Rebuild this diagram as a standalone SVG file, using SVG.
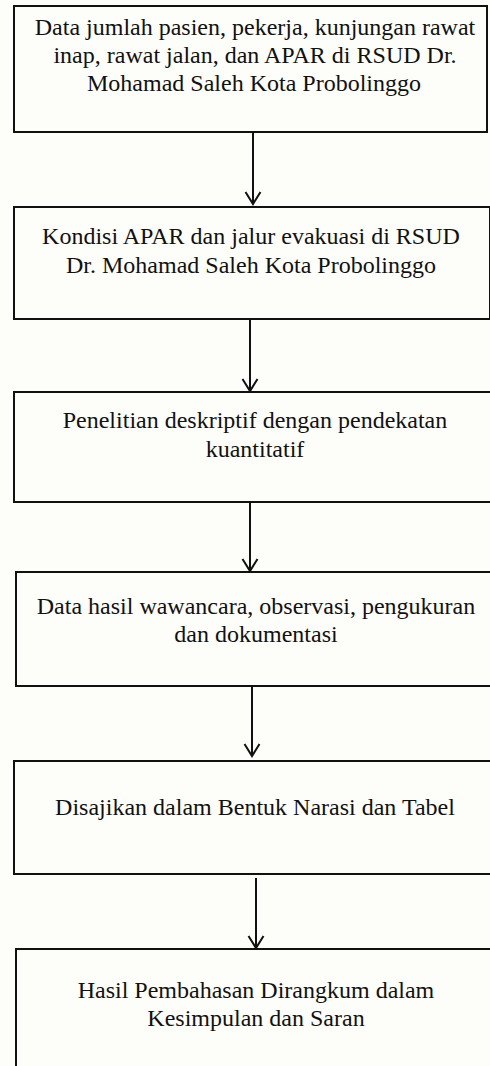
<svg xmlns="http://www.w3.org/2000/svg" width="490" height="1066" viewBox="0 0 490 1066">
  <style>
    .box { fill: none; stroke: #111; stroke-width: 2; }
    .lbl { font-family: "Liberation Serif", "Times New Roman", serif; font-size: 24px; fill: #111; text-anchor: middle; }
    .wire { stroke: #111; stroke-width: 2; fill: none; }
  </style>
  <defs>
    <!-- open V arrowhead, drawn along +x so orient="auto" points it down the line -->
    <marker id="vhead" markerUnits="userSpaceOnUse" markerWidth="16" markerHeight="18" refX="14" refY="9" orient="auto" viewBox="0 0 16 18">
      <path d="M2,1.5 L14,9 L2,16.5" fill="none" stroke="#111" stroke-width="2"/>
    </marker>
  </defs>
  <rect width="490" height="1066" fill="#fdfdf9"/>

  <g id="n1">
    <rect class="box" x="14" y="6" width="473" height="126"/>
    <text class="lbl" x="255" y="35">Data jumlah pasien, pekerja, kunjungan rawat</text>
    <text class="lbl" x="255" y="63">inap, rawat jalan, dan APAR di RSUD Dr.</text>
    <text class="lbl" x="254" y="91">Mohamad Saleh Kota Probolinggo</text>
  </g>

  <g id="n2">
    <rect class="box" x="14" y="207" width="476" height="112"/>
    <text class="lbl" x="251" y="244">Kondisi APAR dan jalur evakuasi di RSUD</text>
    <text class="lbl" x="251" y="273">Dr. Mohamad Saleh Kota Probolinggo</text>
  </g>

  <g id="n3">
    <rect class="box" x="14" y="392" width="480" height="110"/>
    <text class="lbl" x="255" y="428">Penelitian deskriptif dengan pendekatan</text>
    <text class="lbl" x="255" y="457">kuantitatif</text>
  </g>

  <g id="n4">
    <rect class="box" x="16" y="572" width="480" height="114"/>
    <text class="lbl" x="256" y="614">Data hasil wawancara, observasi, pengukuran</text>
    <text class="lbl" x="256" y="642">dan dokumentasi</text>
  </g>

  <g id="n5">
    <rect class="box" x="14" y="761" width="480" height="113"/>
    <text class="lbl" x="255" y="815">Disajikan dalam Bentuk Narasi dan Tabel</text>
  </g>

  <g id="n6">
    <rect class="box" x="16" y="949" width="480" height="130"/>
    <text class="lbl" x="256" y="998">Hasil Pembahasan Dirangkum dalam</text>
    <text class="lbl" x="256" y="1026">Kesimpulan dan Saran</text>
  </g>

  <g id="connectors">
    <line class="wire" x1="253" y1="132" x2="253" y2="204" marker-end="url(#vhead)"/>
    <line class="wire" x1="250" y1="319" x2="250" y2="391" marker-end="url(#vhead)"/>
    <line class="wire" x1="250" y1="502" x2="250" y2="571" marker-end="url(#vhead)"/>
    <line class="wire" x1="252" y1="686" x2="252" y2="756" marker-end="url(#vhead)"/>
    <line class="wire" x1="256" y1="878" x2="256" y2="948" marker-end="url(#vhead)"/>
  </g>
</svg>
